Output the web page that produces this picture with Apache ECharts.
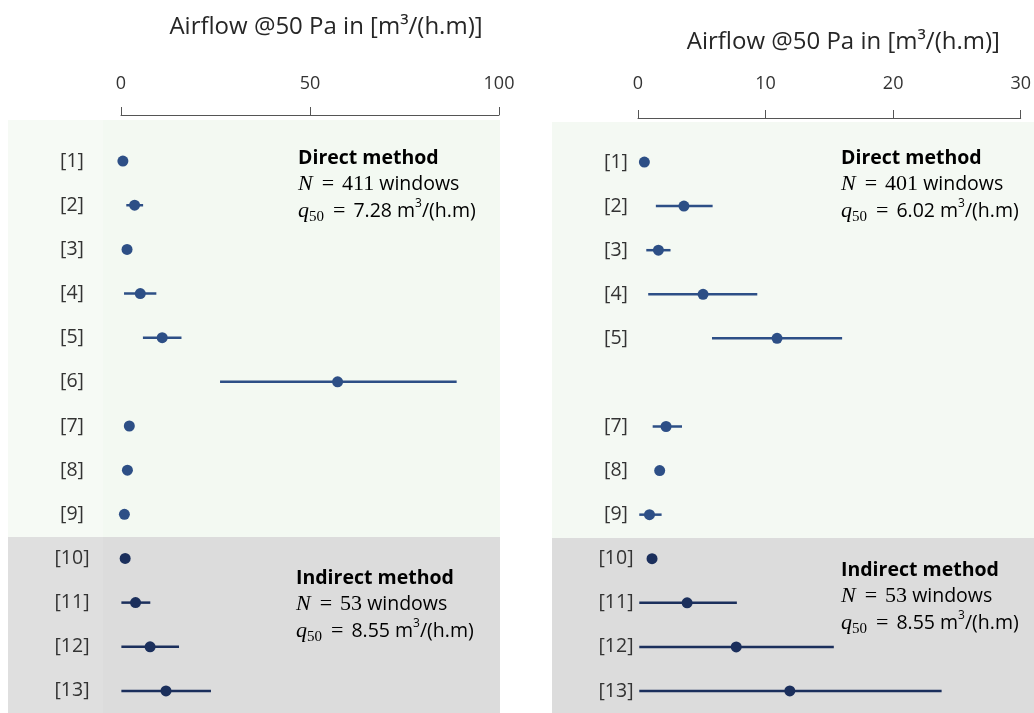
<!DOCTYPE html>
<html>
<head>
<meta charset="utf-8">
<script src="https://cdn.jsdelivr.net/npm/echarts@6/dist/echarts.min.js"></script>
<style>html,body{margin:0;padding:0;background:#fff}#c{width:1034px;height:713px}</style>
</head>
<body>
<div id="c"></div>
<script>
// ---- data ----
const studies = ['[1]','[2]','[3]','[4]','[5]','[6]','[7]','[8]','[9]','[10]','[11]','[12]','[13]'];
const median  = [0.5, 3.6, 1.6, 5.1, 10.9, 57.3, 2.2, 1.7, 0.9, 1.1, 3.85, 7.7, 11.9];
const low     = [0.5, 1.4, 0.65, 0.8, 5.8, 26.2, 1.15, 1.7, 0.1, 1.1, 0.1, 0.1, 0.1];
const high    = [0.5, 5.85, 2.55, 9.35, 16.0, 88.8, 3.45, 1.7, 1.85, 1.1, 7.75, 15.35, 23.8];
const method  = ['direct','direct','direct','direct','direct','direct','direct','direct','direct','indirect','indirect','indirect','indirect'];
const leftTicks  = [0, 50, 100];
const rightTicks = [0, 10, 20, 30];
const axisTitle = 'Airflow @50 Pa in [m³/(h.m)]';
const leftDirect   = {N: '411', q: '7.28'};
const rightDirect  = {N: '401', q: '6.02'};
const indirectInfo = {N: '53',  q: '8.55'};

const colDirect = '#2d4f86', colIndirect = '#1b2f5c';
const sans = '"Open Sans", sans-serif', serif = '"Liberation Serif", serif';

function xAxisCfg(gi, ticks, offset, nameGap, margin, shift) {
  return {
    gridIndex: gi, type: 'value', position: 'top', offset: offset,
    min: ticks[0], max: ticks[ticks.length-1], interval: ticks[1]-ticks[0],
    name: axisTitle, nameLocation: 'middle', nameGap: nameGap,
    nameTextStyle: {fontFamily: sans, fontSize: 24, color: '#262626', padding: [0, 0, 0, shift]},
    axisLine: {show: true, lineStyle: {color: '#555', width: 1}},
    axisTick: {show: true, length: 8, lineStyle: {color: '#555'}},
    axisLabel: {fontFamily: sans, fontSize: 18, color: '#333', margin: margin},
    splitLine: {show: false}
  };
}
function yAxisCfg(gi, margin, maxV) {
  return {
    gridIndex: gi, type: 'category', data: studies, inverse: true,
    axisLine: {show: false}, axisTick: {show: false}, splitLine: {show: false},
    axisLabel: {fontFamily: sans, fontSize: 19.5, color: '#333', align: 'center', margin: margin,
      formatter: (v, i) => (median[i] > maxV ? '' : v)}
  };
}
function errSeries(gi, maxV) {
  return {
    type: 'custom', xAxisIndex: gi, yAxisIndex: gi, clip: true, z: 2,
    data: studies.map((s, i) => [low[i], high[i], i]).filter(d => median[d[2]] <= maxV),
    renderItem: (params, api) => {
      const i = api.value(2);
      const a = api.coord([api.value(0), i]);
      const b = api.coord([api.value(1), i]);
      return {type: 'line', shape: {x1: a[0], y1: a[1], x2: b[0], y2: b[1]},
        style: {stroke: method[i] === 'direct' ? colDirect : colIndirect, lineWidth: 2.5}};
    }
  };
}
function dotSeries(gi, maxV) {
  return {
    type: 'scatter', xAxisIndex: gi, yAxisIndex: gi, clip: true, z: 3, symbolSize: 11,
    data: studies.map((s, i) => ({value: [median[i], i],
      itemStyle: {opacity: 1, color: method[i] === 'direct' ? colDirect : colIndirect}}))
      .filter(d => d.value[0] <= maxV)
  };
}
function infoBlock(x, y, title, info) {
  return {
    type: 'text', left: x, top: y, z: 10,
    style: {
      text: '{b|' + title + '}\n{i|N}{e|=}{s|' + info.N + '}{t| windows}\n{i|q}{sub|50}{e|=}{t|' + info.q + ' m}{sup|3}{t|/(h.m)}',
      rich: {
        b: {fontFamily: sans, fontWeight: 'bold', fontSize: 19.5, color: '#1a1a1a', lineHeight: 26.5},
        i: {fontFamily: serif, fontStyle: 'italic', fontSize: 22, color: '#262626', lineHeight: 26.5},
        e: {fontFamily: serif, fontSize: 22, color: '#262626', lineHeight: 26.5, padding: [0, 8, 0, 9]},
        s: {fontFamily: serif, fontSize: 22, color: '#262626', lineHeight: 26.5},
        t: {fontFamily: sans, fontSize: 19.5, color: '#262626', lineHeight: 26.5},
        sub: {fontFamily: serif, fontSize: 15, color: '#262626', lineHeight: 26.5, verticalAlign: 'bottom', padding: [9, 0, 0, 0]},
        sup: {fontFamily: sans, fontSize: 12, color: '#262626', lineHeight: 26.5, verticalAlign: 'top', padding: [0, 0, 9, 0]}
      }
    }
  };
}

const chart = echarts.init(document.getElementById('c'));
chart.setOption({
  backgroundColor: '#ffffff',
  animation: false,
  graphic: [
    // left panel backgrounds
    {type: 'rect', shape: {x: 8, y: 120, width: 492, height: 417}, style: {fill: '#f3f9f2'}, z: -10},
    {type: 'rect', shape: {x: 8, y: 537, width: 492, height: 176}, style: {fill: '#dcdcdc'}, z: -10},
    {type: 'rect', shape: {x: 8, y: 120, width: 95, height: 417}, style: {fill: '#f6faf5'}, z: -9},
    {type: 'rect', shape: {x: 8, y: 537, width: 95, height: 176}, style: {fill: '#dfdfdf'}, z: -9},
    // right panel backgrounds
    {type: 'rect', shape: {x: 552, y: 122, width: 482, height: 416}, style: {fill: '#f4f9f3'}, z: -10},
    {type: 'rect', shape: {x: 552, y: 538, width: 482, height: 175}, style: {fill: '#dcdcdc'}, z: -10},
    infoBlock(298, 148, 'Direct method', leftDirect),
    infoBlock(841, 148, 'Direct method', rightDirect),
    infoBlock(296, 568, 'Indirect method', indirectInfo),
    infoBlock(841, 560, 'Indirect method', indirectInfo)
  ],
  grid: [
    {left: 121, width: 378, top: 139, height: 575},
    {left: 638, width: 383, top: 140, height: 576}
  ],
  xAxis: [
    xAxisCfg(0, leftTicks, 24, 76, 22, 32),
    xAxisCfg(1, rightTicks, 22, 64, 25, 28)
  ],
  yAxis: [
    yAxisCfg(0, 49, leftTicks[leftTicks.length-1]),
    yAxisCfg(1, 22, rightTicks[rightTicks.length-1])
  ],
  series: [
    errSeries(0, leftTicks[leftTicks.length-1]), dotSeries(0, leftTicks[leftTicks.length-1]),
    errSeries(1, rightTicks[rightTicks.length-1]), dotSeries(1, rightTicks[rightTicks.length-1])
  ]
});
</script>
</body>
</html>
